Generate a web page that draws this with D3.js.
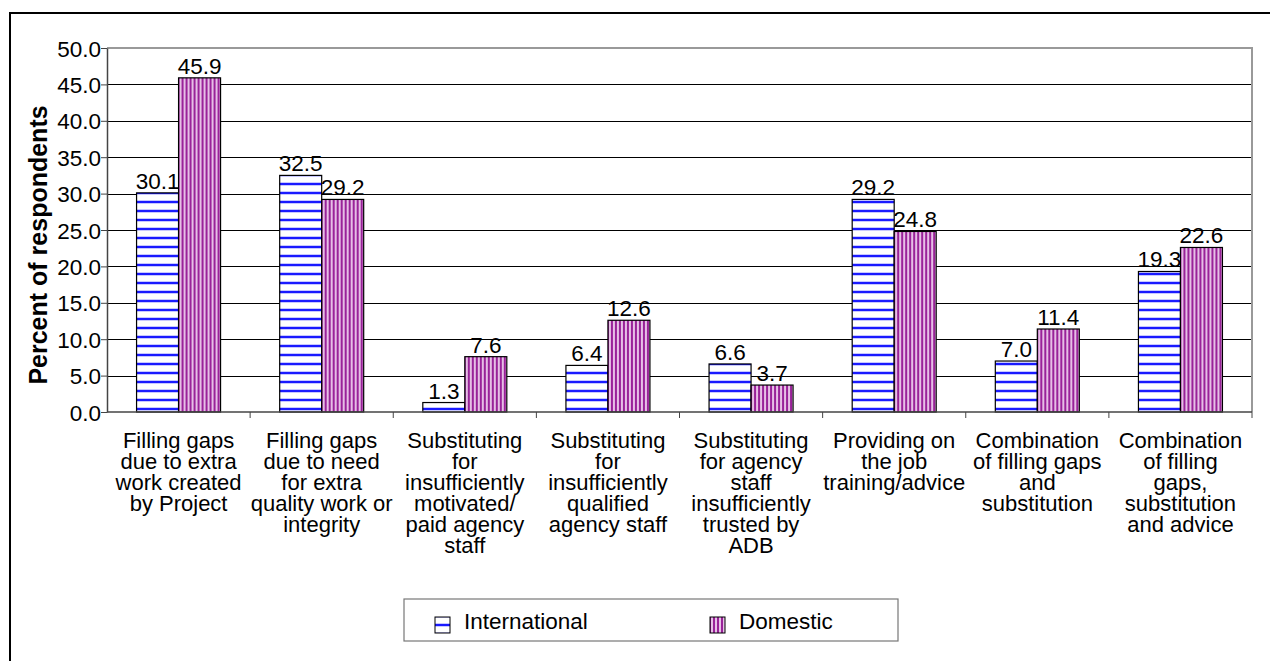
<!DOCTYPE html>
<html>
<head>
<meta charset="utf-8">
<script src="https://cdn.jsdelivr.net/npm/d3@7"></script>
<style>
  html, body { margin: 0; padding: 0; background: #fff; }
  svg { display: block; font-family: "Liberation Sans", Arial, sans-serif; }
</style>
</head>
<body>
<svg id="chart" width="1270" height="661"></svg>
<script>
// Reasons for engaging consultants, share of respondents by type
const categories = [
  ["Filling gaps", "due to extra", "work created", "by Project"],
  ["Filling gaps", "due to need", "for extra", "quality work or", "integrity"],
  ["Substituting", "for", "insufficiently", "motivated/", "paid agency", "staff"],
  ["Substituting", "for", "insufficiently", "qualified", "agency staff"],
  ["Substituting", "for agency", "staff", "insufficiently", "trusted by", "ADB"],
  ["Providing on", "the job", "training/advice"],
  ["Combination", "of filling gaps", "and", "substitution"],
  ["Combination", "of filling", "gaps,", "substitution", "and advice"]
];
const seriesNames = ["International", "Domestic"];
const international = [30.1, 32.5, 1.3, 6.4, 6.6, 29.2, 7.0, 19.3];
const domestic = [45.9, 29.2, 7.6, 12.6, 3.7, 24.8, 11.4, 22.6];
const yTicks = [0, 5, 10, 15, 20, 25, 30, 35, 40, 45, 50];

const FS = 22.5;
const svg = d3.select("#chart");
const plot = { left: 107, right: 1252, top: 48, bottom: 412 };

// Fill patterns
const defs = svg.append("defs");
const pH = defs.append("pattern").attr("id", "hstripe")
  .attr("patternUnits", "userSpaceOnUse").attr("width", 8).attr("height", 9);
pH.append("rect").attr("width", 8).attr("height", 9).attr("fill", "#ffffff");
pH.append("rect").attr("y", 2).attr("width", 8).attr("height", 1).attr("fill", "#c8c8ff");
pH.append("rect").attr("y", 3).attr("width", 8).attr("height", 2).attr("fill", "#1a1aff");
pH.append("rect").attr("y", 5).attr("width", 8).attr("height", 1).attr("fill", "#c8c8ff");

const pV = defs.append("pattern").attr("id", "vstripe")
  .attr("patternUnits", "userSpaceOnUse").attr("width", 4).attr("height", 8);
pV.append("rect").attr("width", 4).attr("height", 8).attr("fill", "#e6bfe6");
pV.append("rect").attr("x", 1).attr("width", 2).attr("height", 8).attr("fill", "#992299");

// Outer frame
svg.append("path")
  .attr("d", `M10,661 L10,13 L1270,13`)
  .attr("fill", "none").attr("stroke", "#000").attr("stroke-width", 2);

// Scales
const x0 = d3.scaleBand().domain(d3.range(categories.length))
  .range([plot.left, plot.right]).paddingInner(0).paddingOuter(0);
const groupW = 84;
const x1 = d3.scaleBand().domain(seriesNames).range([0, groupW]);
const y = d3.scaleLinear().domain([0, 50]).range([plot.bottom, plot.top]);

// Gridlines
svg.append("g").selectAll("line").data(yTicks.filter(t => t > 0 && t < 50)).join("line")
  .attr("x1", plot.left).attr("x2", plot.right)
  .attr("y1", d => Math.round(y(d)) + 0.5).attr("y2", d => Math.round(y(d)) + 0.5)
  .attr("stroke", "#000").attr("stroke-width", 1);

// Plot border (top and right)
svg.append("path")
  .attr("d", `M${plot.left},${y(50)} L${plot.right},${y(50)} L${plot.right},${plot.bottom}`)
  .attr("fill", "none").attr("stroke", "#999").attr("stroke-width", 2);

// Y axis
const yAxis = d3.axisLeft(y).tickValues(yTicks).tickFormat(d3.format(".1f")).tickSize(6).tickSizeOuter(0);
const gy = svg.append("g").attr("transform", `translate(${plot.left},0)`).call(yAxis);
gy.select(".domain").attr("stroke", "#444").attr("stroke-width", 1.5);
gy.selectAll(".tick line").attr("stroke", "#444");
gy.selectAll(".tick text").attr("font-size", FS).attr("fill", "#000")
  .attr("font-family", "Liberation Sans, Arial, sans-serif").attr("x", -6).attr("dy", "0.36em");

// Y label
svg.append("text")
  .attr("transform", `translate(47,245) rotate(-90)`)
  .attr("text-anchor", "middle").attr("font-size", 25).attr("font-weight", "bold")
  .text("Percent of respondents");

// Bars
const rows = categories.map((c, i) => ({ i, vals: [
  { s: "International", v: international[i] },
  { s: "Domestic", v: domestic[i] }
]}));
const offset = (x0.bandwidth() - groupW) / 2;
const groups = svg.append("g").selectAll("g").data(rows).join("g")
  .attr("transform", d => `translate(${x0(d.i) + offset},0)`);
groups.selectAll("rect").data(d => d.vals).join("rect")
  .attr("x", d => x1(d.s)).attr("width", x1.bandwidth())
  .attr("y", d => y(d.v)).attr("height", d => y(0) - y(d.v))
  .attr("fill", d => d.s === "International" ? "url(#hstripe)" : "url(#vstripe)")
  .attr("stroke", "#000").attr("stroke-width", 1.2);
groups.selectAll("text").data(d => d.vals).join("text")
  .attr("x", d => x1(d.s) + x1.bandwidth() / 2)
  .attr("y", d => y(d.v) - 4)
  .attr("text-anchor", "middle").attr("font-size", FS)
  .text(d => d.v.toFixed(1));

// X axis
const gx = svg.append("g").attr("transform", `translate(0,${plot.bottom})`);
gx.append("line").attr("x1", plot.left).attr("x2", plot.right)
  .attr("stroke", "#444").attr("stroke-width", 1.5);
gx.selectAll("line.tk").data(d3.range(1, categories.length + 1)).join("line")
  .attr("class", "tk")
  .attr("x1", d => plot.left + d * x0.bandwidth()).attr("x2", d => plot.left + d * x0.bandwidth())
  .attr("y1", 0).attr("y2", 6).attr("stroke", "#444");

// Category labels
const lab = svg.append("g").selectAll("text").data(categories).join("text")
  .attr("text-anchor", "middle").attr("font-size", 22)
  .attr("transform", (d, i) => `translate(${x0(i) + x0.bandwidth() / 2},448)`);
lab.selectAll("tspan").data(d => d).join("tspan")
  .attr("x", 0).attr("y", (d, k) => k * 21).text(d => d);

// Legend
const lg = svg.append("g");
lg.append("rect").attr("x", 404).attr("y", 599).attr("width", 494).attr("height", 42)
  .attr("fill", "#fff").attr("stroke", "#777").attr("stroke-width", 1.2);
const legX = [435, 710];
seriesNames.forEach((s, k) => {
  lg.append("rect").attr("x", legX[k]).attr("y", 617).attr("width", 15).attr("height", 16)
    .attr("fill", k === 0 ? "url(#hstripe)" : "url(#vstripe)")
    .attr("stroke", "#000").attr("stroke-width", 1);
  lg.append("text").attr("x", legX[k] + 29).attr("y", 629).attr("font-size", FS).text(s);
});
</script>
</body>
</html>
